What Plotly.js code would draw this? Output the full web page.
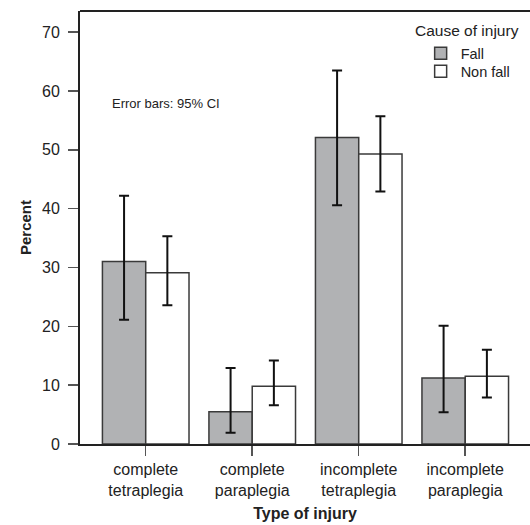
<!DOCTYPE html>
<html>
<head>
<meta charset="utf-8">
<script src="https://cdn.plot.ly/plotly-3.0.1.min.js"></script>
<style>html,body{margin:0;padding:0;overflow:hidden;background:#fff;}</style>
</head>
<body>
<div id="chart" style="width:530px;height:525px;"></div>
<script>
const categories = ["complete<br>tetraplegia", "complete<br>paraplegia", "incomplete<br>tetraplegia", "incomplete<br>paraplegia"];
const fallValues = [31.0, 5.5, 52.1, 11.2];
const fallUpper = [42.2, 12.9, 63.5, 20.1];
const fallLower = [21.1, 1.9, 40.6, 5.4];
const nonFallValues = [29.1, 9.8, 49.3, 11.5];
const nonFallUpper = [35.3, 14.2, 55.7, 16.0];
const nonFallLower = [23.6, 6.6, 42.9, 7.9];
const yTicks = [0, 10, 20, 30, 40, 50, 60, 70];

function errPlus(v, u) { return v.map((x, i) => u[i] - x); }
function errMinus(v, l) { return v.map((x, i) => x - l[i]); }

const errStyle = {type: 'data', symmetric: false, color: '#111', thickness: 2, width: 5};

const traces = [
  {
    type: 'bar', name: 'Fall', x: categories, y: fallValues, legend: 'legend', showlegend: true,
    marker: {color: '#b1b2b4', line: {color: '#3a3a3a', width: 1.5}},
    error_y: Object.assign({array: errPlus(fallValues, fallUpper), arrayminus: errMinus(fallValues, fallLower)}, errStyle)
  },
  {
    type: 'bar', name: 'Non fall', x: categories, y: nonFallValues, legend: 'legend2', showlegend: true,
    marker: {color: '#ffffff', line: {color: '#3a3a3a', width: 1.5}},
    error_y: Object.assign({array: errPlus(nonFallValues, nonFallUpper), arrayminus: errMinus(nonFallValues, nonFallLower)}, errStyle)
  }
];

const legendCommon = {
  xanchor: 'left', yanchor: 'middle', bgcolor: 'rgba(0,0,0,0)',
  font: {size: 14.5, color: '#222'}, borderwidth: 0, visible: true
};

const layout = {
  width: 530, height: 525,
  margin: {l: 80, r: 0, t: 11, b: 81},
  paper_bgcolor: '#ffffff', plot_bgcolor: '#ffffff',
  font: {family: 'Liberation Sans, Arial, sans-serif', size: 16, color: '#222'},
  showlegend: true,
  barmode: 'group', bargap: 0.187, bargroupgap: 0,
  xaxis: {
    range: [-0.617, 3.608], showgrid: false, zeroline: false,
    showline: true, linecolor: '#222', linewidth: 2, mirror: false,
    ticks: 'outside', ticklen: 10, tickwidth: 1.5, tickcolor: '#555',
    tickfont: {size: 16, color: '#222'},
    title: {text: '<b>Type of injury</b>', font: {size: 16, color: '#222'}, standoff: 10}
  },
  yaxis: {
    range: [0, 73.6], tickvals: yTicks, showgrid: false, zeroline: false,
    showline: true, linecolor: '#222', linewidth: 2,
    ticks: 'outside', ticklen: 10, tickwidth: 1.5, tickcolor: '#555',
    ticklabelstandoff: 5,
    tickfont: {size: 16, color: '#222'},
    title: {text: '<b>Percent</b>', font: {size: 15, color: '#222'}, standoff: 7}
  },
  shapes: [
    {type: 'line', xref: 'paper', yref: 'paper', x0: 0, x1: 1, y0: 1, y1: 1, line: {color: '#222', width: 2}}
  ],
  legend: Object.assign({x: 0.757, y: 0.9023}, legendCommon),
  legend2: Object.assign({x: 0.757, y: 0.8607}, legendCommon),
  annotations: [
    {text: 'Error bars: 95% CI', xref: 'paper', yref: 'y', x: 0.066, y: 57.8, xanchor: 'left', yanchor: 'middle',
     showarrow: false, font: {size: 13, color: '#222'}},
    {text: 'Cause of injury', xref: 'paper', yref: 'paper', x: 0.861, y: 0.9545, xanchor: 'center', yanchor: 'middle',
     showarrow: false, font: {size: 15.5, color: '#222'}}
  ]
};

Plotly.newPlot('chart', traces, layout, {displayModeBar: false, staticPlot: true});
</script>
</body>
</html>
